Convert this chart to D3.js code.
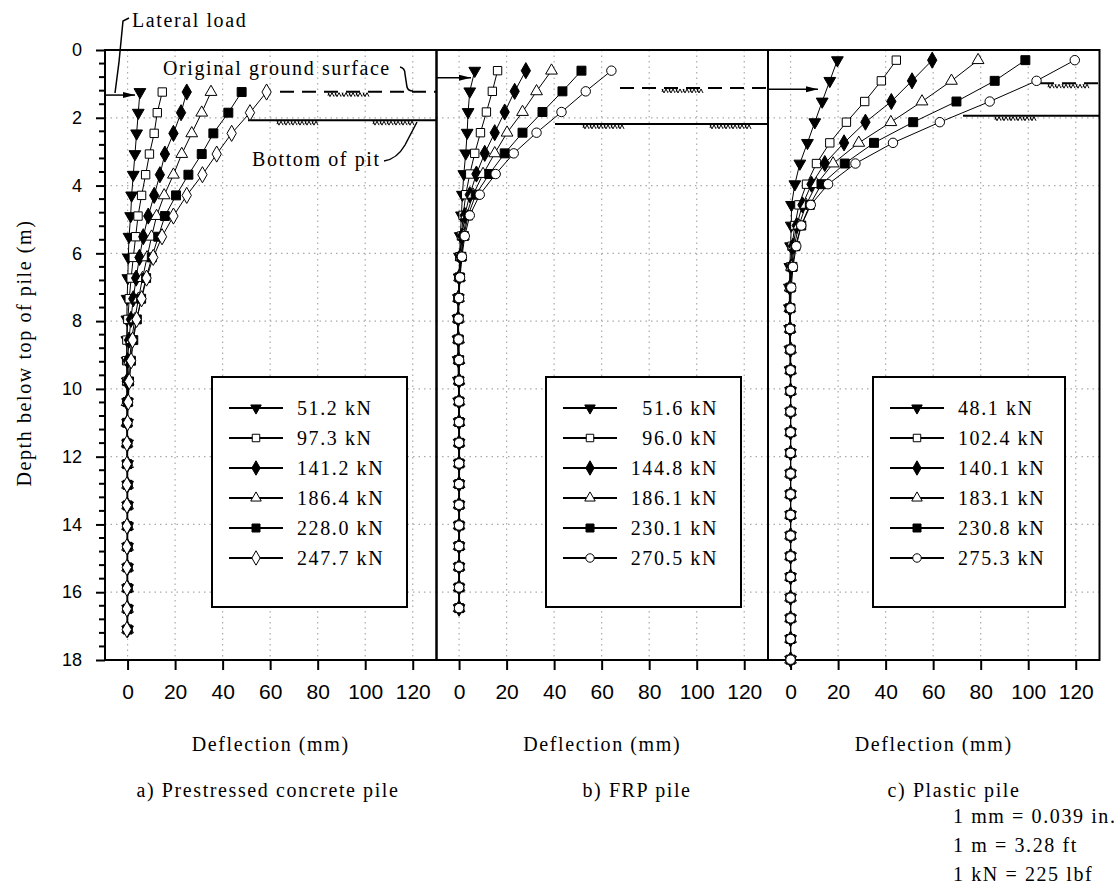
<!DOCTYPE html>
<html><head><meta charset="utf-8">
<script src="https://cdn.jsdelivr.net/npm/d3@7"></script>
<style>
body{margin:0;background:#fff;}
svg{display:block;}
</style></head>
<body>
<svg id="chart" width="1117" height="886"></svg>
<script>
// ---------------- DATA ----------------
const xTicks = [0, 20, 40, 60, 80, 100, 120];
const yTicks = [0, 2, 4, 6, 8, 10, 12, 14, 16, 18];
const yMinorTicks = [0.4,0.8,1.2,1.6,2.4,2.8,3.2,3.6,4.4,4.8,5.2,5.6,6.4,6.8,7.2,7.6,8.4,8.8,9.2,9.6,10.4,10.8,11.2,11.6,12.4,12.8,13.2,13.6,14.4,14.8,15.2,15.6,16.4,16.8,17.2,17.6];

const panelTitles = ["a) Prestressed concrete pile", "b) FRP pile", "c) Plastic pile"];
const unitNotes = ["1 mm = 0.039 in.", "1 m = 3.28 ft", "1 kN = 225 lbf"];

// Panel a: prestressed concrete pile
const depthsA = [1.24,1.85,2.46,3.07,3.68,4.29,4.90,5.51,6.12,6.73,7.34,7.95,8.56,9.17,9.78,10.39,11.00,11.61,12.22,12.83,13.44,14.05,14.66,15.27,15.88,16.49,17.10];
const loadsA = ["51.2 kN","97.3 kN","141.2 kN","186.4 kN","228.0 kN","247.7 kN"];
const a1 = [5.2,4.5,3.8,3.1,2.4,1.7,1.3,0.6,0.3,0.1,-0.2,-0.3,-0.3,-0.2,-0.1,0,0,0,0,0,0,0,0,0,0,0,0];
const a2 = [14.6,12.5,11.2,9.2,7.6,5.9,4.4,3.4,2.4,1.5,0.7,0.1,-0.3,-0.4,-0.3,-0.2,0,0,0,0,0,0,0,0,0,0,0];
const a3 = [24.9,22.5,19.3,15.7,13.6,11.2,8.7,6.6,5.0,3.6,2.4,1.4,0.6,0.0,-0.3,-0.3,-0.2,0,0,0,0,0,0,0,0,0,0];
const a4 = [35.1,31.2,27.0,22.8,19.3,15.4,12.2,10.1,8.2,6.3,4.6,3.0,1.7,0.8,0.2,-0.2,-0.3,-0.2,0,0,0,0,0,0,0,0,0];
const a5 = [48.0,42.4,36.1,31.2,25.6,20.4,15.7,12.9,10.2,7.8,5.7,3.9,2.4,1.4,0.6,0.1,-0.2,-0.3,-0.2,0,0,0,0,0,0,0,0];
const a6 = [58.5,51.5,43.8,37.5,31.5,24.9,19.3,14.5,10.8,8.0,5.9,3.8,2.1,1.5,0.7,0.3,0,-0.3,-0.3,-0.3,-0.3,-0.3,-0.3,-0.3,-0.3,-0.3,-0.3];

// Panel b: FRP pile
const depthsB = [0.61,1.22,1.83,2.44,3.05,3.66,4.27,4.88,5.49,6.10,6.71,7.32,7.93,8.54,9.15,9.76,10.37,10.98,11.59,12.20,12.81,13.42,14.03,14.64,15.25,15.86,16.47];
const loadsB = ["51.6 kN","96.0 kN","144.8 kN","186.1 kN","230.1 kN","270.5 kN"];
const b1 = [6.6,4.5,3.8,3.4,2.8,2.0,1.4,1.0,0.5,0.2,0,-0.3,-0.5,-0.5,-0.4,-0.3,-0.2,0,0,0,0,0,0,0,0,0,0];
const b2 = [16.2,14.0,11.5,9.0,6.6,4.5,2.8,1.7,1.0,0.3,0,-0.4,-0.6,-0.6,-0.4,-0.2,0,0.2,0.2,0.2,0.2,0.2,0.2,0.2,0.2,0.2,0.2];
const b3 = [28.1,23.4,19.2,15.0,10.8,7.3,4.5,2.4,1.3,0.5,0,-0.3,-0.4,-0.3,-0.2,0,0,0,0,0,0,0,0,0,0,0,0];
const b4 = [38.9,32.6,26.7,20.2,15.0,10.1,5.9,3.1,1.8,0.8,0.2,-0.2,-0.3,-0.2,0,0,0,0,0,0,0,0,0,0,0,0,0];
const b5 = [51.5,43.5,35.1,26.7,19.2,12.7,7.0,3.8,2.0,1.0,0.3,-0.2,-0.3,-0.2,0,0,0,0,0,0,0,0,0,0,0,0,0];
const b6 = [64.1,53.3,43.1,32.6,23.0,15.4,8.7,4.5,2.4,1.2,0.4,0,-0.2,-0.2,0,0,0,0,0,0,0,0,0,0,0,0,0];

// Panel c: plastic pile
const depthsC = [0.30,0.91,1.52,2.13,2.74,3.35,3.96,4.57,5.18,5.79,6.40,7.01,7.62,8.23,8.84,9.45,10.06,10.67,11.28,11.89,12.50,13.11,13.72,14.33,14.94,15.55,16.16,16.77,17.38,17.99];
const loadsC = ["48.1 kN","102.4 kN","140.1 kN","183.1 kN","230.8 kN","275.3 kN"];
const c1 = [19.7,16.5,13.3,10.2,7.1,3.9,1.8,0.4,0.3,0,-0.3,-0.5,-0.5,-0.4,-0.3,-0.2,0,0,0,0,0,0,0,0,0,0,0,0,0,0];
const c2 = [44.5,38.2,31.2,23.5,16.5,10.9,6.7,3.5,1.8,0.6,0,-0.3,-0.4,-0.3,-0.2,0,0,0,0,0,0,0,0,0,0,0,0,0,0,0];
const c3 = [59.6,51.1,42.4,31.5,22.5,14.4,8.8,5.0,2.6,1.0,0.2,-0.3,-0.3,-0.2,0,0,0,0,0,0,0,0,0,0,0,0,0,0,0,0];
const c4 = [78.9,67.7,55.3,42.2,28.7,17.9,10.9,6.5,3.5,1.5,0.4,-0.2,-0.3,-0.2,0,0,0,0,0,0,0,0,0,0,0,0,0,0,0,0];
const c5 = [98.8,85.9,69.8,51.6,35.1,22.8,13.0,8.1,4.5,2.0,0.8,0,-0.2,-0.2,0,0,0,0,0,0,0,0,0,0,0,0,0,0,0,0];
const c6 = [119.6,103.5,83.8,62.8,43.1,27.3,15.8,8.5,4.5,2.4,1.0,0.3,0,-0.2,0,0,0,0,0,0,0,0,0,0,0,0,0,0,0,0];

// Annotation depths (m)
const loadDepth = [1.33, 0.82, 1.16];
const groundDepth = [1.23, 1.12, 0.98];
const pitDepth = [2.07, 2.18, 1.94];

// ---------------- LAYOUT ----------------
const SERIF = "'Liberation Serif', Tinos, 'Times New Roman', Times, 'DejaVu Serif', serif";
const SANS = "'Liberation Sans', Arimo, Arial, sans-serif";
const svg = d3.select("#chart");
const plotTop = 50, plotBottom = 660;
const panelLeft = [105, 436.5, 768];
const panelW = 331.5;
const y = d3.scaleLinear().domain([0, 18]).range([plotTop, plotBottom]);

function serifText(g, xx, yy, str, anchor) {
  return g.append("text").attr("x", xx).attr("y", yy)
    .attr("font-family", SERIF).attr("font-size", 20).attr("letter-spacing", "1.6px")
    .attr("fill", "#000").attr("text-anchor", anchor || "start").text(str);
}

const panels = [
  {depths: depthsA, series: [a1,a2,a3,a4,a5,a6], loads: loadsA, last: "diamond", legendAlign: "start"},
  {depths: depthsB, series: [b1,b2,b3,b4,b5,b6], loads: loadsB, last: "circle", legendAlign: "end"},
  {depths: depthsC, series: [c1,c2,c3,c4,c5,c6], loads: loadsC, last: "circle", legendAlign: "start"}
];

function markerSpec(i, last) {
  const specs = [
    {type: d3.symbolTriangle, size: 60, fill: "#000", rot: 180},
    {type: d3.symbolSquare, size: 70, fill: "#fff", rot: 0},
    {type: d3.symbolDiamond, size: 75, fill: "#000", rot: 0},
    {type: d3.symbolTriangle, size: 60, fill: "#fff", rot: 0},
    {type: d3.symbolSquare, size: 80, fill: "#000", rot: 0},
    last === "diamond" ? {type: d3.symbolDiamond, size: 75, fill: "#fff", rot: 0}
                       : {type: d3.symbolCircle, size: 70, fill: "#fff", rot: 0}
  ];
  return specs[i];
}

function hatch(g, x1, x2, yy) {
  let d = "";
  for (let x = x1; x < x2 - 4; x += 7) {
    d += `M${x},${yy+1} l2,4 l2,-4 l2,4 M${x+1},${yy+1} l-1,3`;
  }
  g.append("path").attr("d", d).attr("fill", "none").attr("stroke", "#000").attr("stroke-width", 1);
}

const grid = svg.append("g");
const frame = svg.append("g");

panels.forEach((p, pi) => {
  const x0 = panelLeft[pi];
  const x = d3.scaleLinear().domain([-9.5, 130]).range([x0, x0 + panelW]);
  p.x = x;
  grid.selectAll(null).data(xTicks).enter().append("line")
    .attr("x1", d => x(d)).attr("x2", d => x(d)).attr("y1", plotTop).attr("y2", plotBottom)
    .attr("stroke", "#aaa").attr("stroke-width", 1.2).attr("stroke-dasharray", "1.5,4");
  grid.selectAll(null).data(yTicks.slice(1, -1)).enter().append("line")
    .attr("x1", x0).attr("x2", x0 + panelW).attr("y1", d => y(d)).attr("y2", d => y(d))
    .attr("stroke", "#aaa").attr("stroke-width", 1.2).attr("stroke-dasharray", "1.5,4");

  const ax = svg.append("g").attr("transform", `translate(0,${plotBottom})`)
    .call(d3.axisBottom(x).tickValues(xTicks).tickSize(10).tickPadding(14).tickFormat(d3.format("d")));
  ax.select(".domain").remove();
  ax.selectAll(".tick line").attr("stroke", "#000").attr("stroke-width", 2);
  ax.selectAll(".tick text").attr("font-family", SANS).attr("font-size", 21).attr("fill", "#000");

  serifText(svg, x0 + panelW / 2, 751, "Deflection (mm)", "middle");

  frame.append("rect").attr("x", x0).attr("y", plotTop).attr("width", panelW).attr("height", plotBottom - plotTop)
    .attr("fill", "none").attr("stroke", "#000").attr("stroke-width", 2);
});

serifText(svg, 268, 797, panelTitles[0], "middle");
serifText(svg, 637, 797, panelTitles[1], "middle");
serifText(svg, 954, 797, panelTitles[2], "middle");
unitNotes.forEach((t, i) => serifText(svg, 953, 823 + i * 29, t));

const ay = svg.append("g").attr("transform", `translate(${panelLeft[0]},0)`)
  .call(d3.axisLeft(y).tickValues(yTicks).tickSize(9).tickPadding(14));
ay.select(".domain").remove();
ay.selectAll(".tick line").attr("stroke", "#000").attr("stroke-width", 2);
ay.selectAll(".tick text").attr("font-family", SANS).attr("font-size", 18).attr("fill", "#000");
svg.append("g").selectAll(null).data(yMinorTicks).enter().append("line")
  .attr("x1", panelLeft[0] - 6).attr("x2", panelLeft[0]).attr("y1", d => y(d)).attr("y2", d => y(d))
  .attr("stroke", "#000").attr("stroke-width", 2);
serifText(svg, 0, 0, "Depth below top of pile (m)", "middle")
  .attr("transform", `translate(31,${(plotTop + plotBottom) / 2 - 2}) rotate(-90)`);

const ann = svg.append("g");
const arrowEnds = [135, 471, 818];
panels.forEach((p, pi) => {
  const x0 = panelLeft[pi];
  const ly = y(loadDepth[pi]);
  ann.append("line").attr("x1", x0).attr("x2", arrowEnds[pi]).attr("y1", ly).attr("y2", ly)
    .attr("stroke", "#000").attr("stroke-width", 1.5);
  const ae = arrowEnds[pi];
  ann.append("path").attr("d", `M${ae-12},${ly-3} L${ae},${ly} L${ae-12},${ly+3} Z`).attr("fill", "#000");
});
const groundX = [[280, 436.5], [620, 768], [1040, 1099.5]];
const groundHatch = [[328, 370], [662, 703], [1048, 1090]];
const pitX = [[248, 436.5], [555, 768], [963, 1099.5]];
const pitHatch = [[[277, 317], [373, 417]], [[583, 625], [710, 752]], [[995, 1035]]];
panels.forEach((p, pi) => {
  const gy = y(groundDepth[pi]);
  ann.append("line").attr("x1", groundX[pi][0]).attr("x2", groundX[pi][1]).attr("y1", gy).attr("y2", gy)
    .attr("stroke", "#000").attr("stroke-width", 2).attr("stroke-dasharray", "14,8");
  hatch(ann, groundHatch[pi][0], groundHatch[pi][1], gy);
  const py = y(pitDepth[pi]);
  ann.append("line").attr("x1", pitX[pi][0]).attr("x2", pitX[pi][1]).attr("y1", py).attr("y2", py)
    .attr("stroke", "#000").attr("stroke-width", 2);
  pitHatch[pi].forEach(h => hatch(ann, h[0], h[1], py));
});
serifText(ann, 132, 27, "Lateral load");
ann.append("path").attr("d", "M129,18 L123,21 L119,62 L115,93").attr("fill", "none").attr("stroke", "#000").attr("stroke-width", 1.5);
serifText(ann, 163, 75, "Original ground surface");
ann.append("path").attr("d", "M400,67 Q405,68 405,74 L407,87 Q408,91 413,91").attr("fill", "none").attr("stroke", "#000").attr("stroke-width", 1.5);
serifText(ann, 252, 166, "Bottom of pit");
ann.append("path").attr("d", "M384,161 Q397,159 405,145 L417,122").attr("fill", "none").attr("stroke", "#000").attr("stroke-width", 1.5);

const dataG = svg.append("g");
panels.forEach((p, pi) => {
  const x = p.x;
  p.series.forEach((vals, si) => {
    const pts = vals.map((v, i) => [x(v), y(p.depths[i])]);
    dataG.append("path").attr("d", d3.line()(pts)).attr("fill", "none").attr("stroke", "#000").attr("stroke-width", 1);
    const ms = markerSpec(si, p.last);
    const sym = d3.symbol().type(ms.type).size(ms.size);
    dataG.selectAll(null).data(pts).enter().append("path")
      .attr("d", sym)
      .attr("transform", d => `translate(${d[0]},${d[1]}) rotate(${ms.rot})`)
      .attr("fill", ms.fill).attr("stroke", "#000").attr("stroke-width", 1);
  });
});

const legendBox = [[212, 407], [546, 741], [873, 1065]];
const legendText = [297, 718, 958];
panels.forEach((p, pi) => {
  const [lx1, lx2] = legendBox[pi];
  const lg = svg.append("g");
  lg.append("rect").attr("x", lx1).attr("y", 377).attr("width", lx2 - lx1).attr("height", 230)
    .attr("fill", "#fff").attr("stroke", "#000").attr("stroke-width", 2);
  const lineX1 = lx1 + 17, lineX2 = lx1 + 71, mx = lx1 + 44;
  p.loads.forEach((lab, si) => {
    const ry = 408 + si * 30;
    lg.append("line").attr("x1", lineX1).attr("x2", lineX2).attr("y1", ry).attr("y2", ry)
      .attr("stroke", "#000").attr("stroke-width", 2);
    const ms = markerSpec(si, p.last);
    lg.append("path").attr("d", d3.symbol().type(ms.type).size(ms.size * 0.8))
      .attr("transform", `translate(${mx},${ry}) rotate(${ms.rot})`)
      .attr("fill", ms.fill).attr("stroke", "#000").attr("stroke-width", 1);
    serifText(lg, legendText[pi], ry + 7, lab, p.legendAlign);
  });
});
</script>
</body></html>
